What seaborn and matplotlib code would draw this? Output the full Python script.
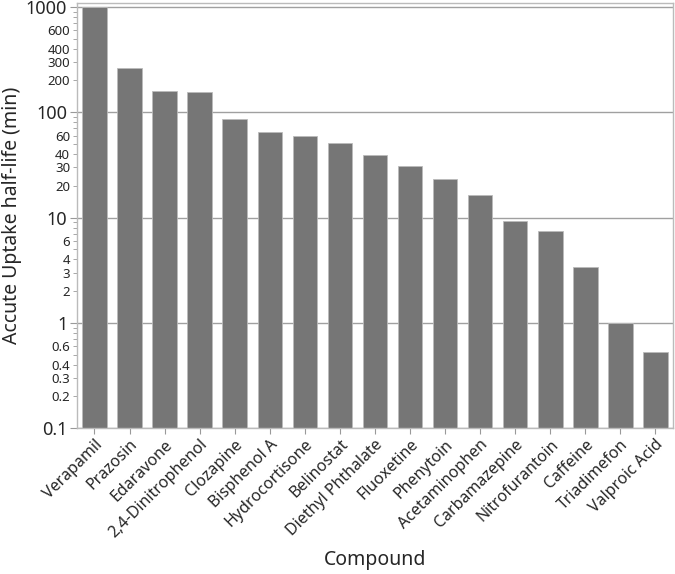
import numpy as np
import pandas as pd
import seaborn as sns
import matplotlib.pyplot as plt
from matplotlib.ticker import FixedLocator, FixedFormatter

compounds = ['Verapamil', 'Prazosin', 'Edaravone', '2,4-Dinitrophenol', 'Clozapine',
             'Bisphenol A', 'Hydrocortisone', 'Belinostat', 'Diethyl Phthalate',
             'Fluoxetine', 'Phenytoin', 'Acetaminophen', 'Carbamazepine',
             'Nitrofurantoin', 'Caffeine', 'Triadimefon', 'Valproic Acid']
half_life = [1000, 262, 158, 156, 87, 65, 59, 51, 39, 30.5, 23, 16.2, 9.2, 7.5, 3.4, 1.0, 0.53]

major_vals = [0.1, 1, 10, 100, 1000]
major_labels = ['0.1', '1', '10', '100', '1000']
minor_labeled = [2, 3, 4, 6]

df = pd.DataFrame({'Compound': compounds, 'half_life': half_life})

sns.set_style('white')
plt.rcParams['font.family'] = ['Noto Sans', 'DejaVu Sans']

fig, ax = plt.subplots(figsize=(6.75, 5.74), dpi=100)
fig.subplots_adjust(left=0.114, right=0.997, top=0.995, bottom=0.254)

sns.barplot(data=df, x='Compound', y='half_life', color='#767676', saturation=1,
            width=0.7, edgecolor='#bbbbbb', linewidth=0.6, ax=ax)
ax.set_yscale('log')
ax.set_ylim(0.1, 1090)
ax.set_xlim(-0.5, len(compounds) - 0.5)

# major ticks + grid
ax.yaxis.set_major_locator(FixedLocator(major_vals))
ax.yaxis.set_major_formatter(FixedFormatter(major_labels))
minor_pos, minor_lab = [], []
for dec in [0.1, 1, 10, 100]:
    for m in range(2, 10):
        minor_pos.append(dec * m)
        minor_lab.append(('%g' % (dec * m)) if m in minor_labeled else '')
ax.yaxis.set_minor_locator(FixedLocator(minor_pos))
ax.yaxis.set_minor_formatter(FixedFormatter(minor_lab))

ax.tick_params(axis='y', which='major', labelsize=13, length=5, color='#999999', left=True, pad=2)
ax.tick_params(axis='y', which='minor', labelsize=9.5, length=3, color='#999999', left=True, pad=2)
ax.tick_params(axis='x', labelsize=11.5, length=4, color='#999999', bottom=True, pad=2)
ax.yaxis.grid(True, which='major', color='#a0a0a0', linewidth=1)
ax.set_axisbelow(True)

for lab in ax.get_xticklabels():
    lab.set_rotation(45)
    lab.set_ha('right')
    lab.set_rotation_mode('anchor')

for sp in ax.spines.values():
    sp.set_color('#bbbbbb')
    sp.set_linewidth(1)

ax.set_xlabel('Compound', fontsize=14, labelpad=6)
ax.set_ylabel('Accute Uptake half-life (min)', fontsize=14)
ax.yaxis.set_label_coords(-0.092, 0.5)

fig.savefig('out.png', dpi=100)
